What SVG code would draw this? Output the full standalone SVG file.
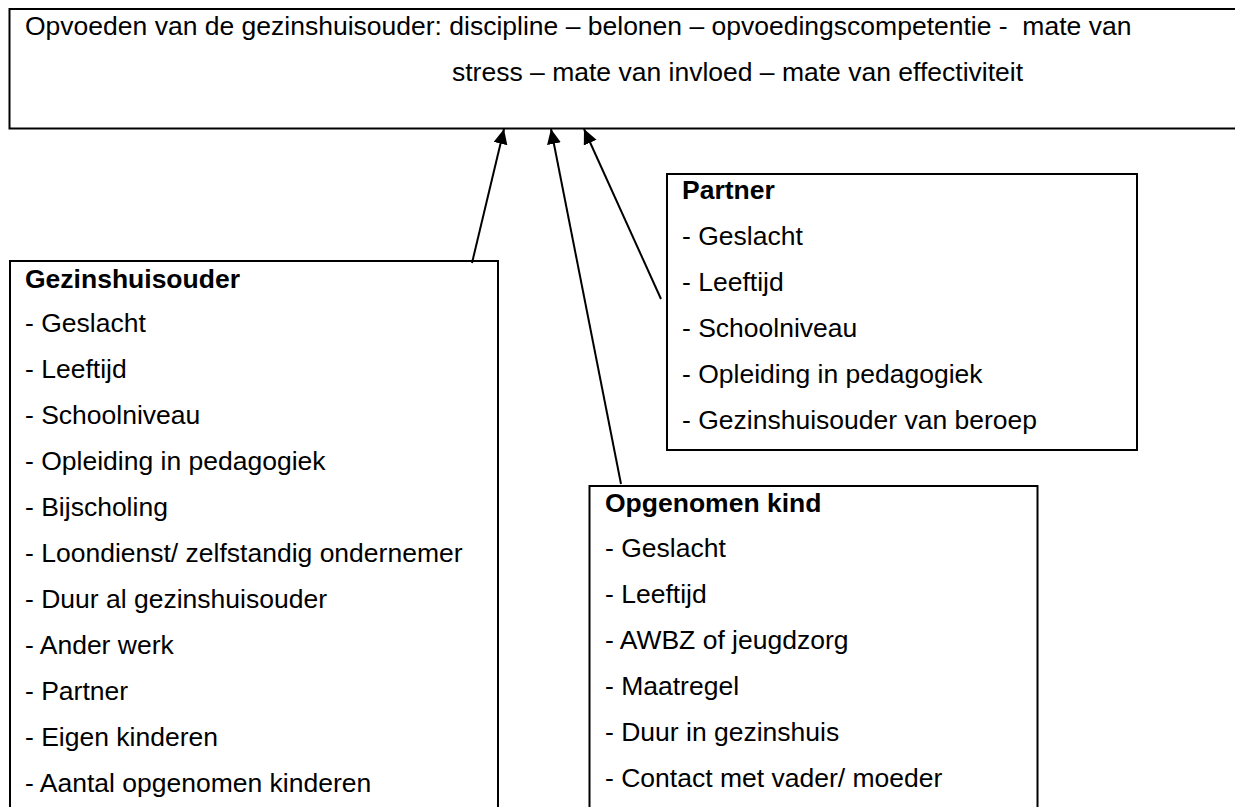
<svg xmlns="http://www.w3.org/2000/svg" width="1235" height="807" viewBox="0 0 1235 807">
<style>
  .box { fill: #ffffff; stroke: #000000; stroke-width: 2; }
  .t { font-family: "Liberation Sans", Arial, sans-serif; font-size: 26.5px; fill: #000000; }
  .h { font-weight: bold; }
  .conn { stroke: #000000; stroke-width: 2; fill: none; marker-end: url(#arrow); }
</style>
<defs>
  <marker id="arrow" markerUnits="userSpaceOnUse" markerWidth="16" markerHeight="15" refX="15" refY="7" orient="auto">
    <path d="M0,0 L15,7 L0,14 Z" fill="#000000"/>
  </marker>
</defs>
<rect width="1235" height="807" fill="#ffffff"/>

<g id="node-outcome">
  <rect class="box" x="9.5" y="9" width="1240" height="119.5"/>
  <text class="t" x="25" y="35" xml:space="preserve">Opvoeden van de gezinshuisouder: discipline – belonen – opvoedingscompetentie -  mate van</text>
  <text class="t" x="452" y="81">stress – mate van invloed – mate van effectiviteit</text>
</g>

<g id="node-gezinshuisouder">
  <rect class="box" x="10" y="261" width="488" height="560"/>
  <text class="t h" x="25" y="288">Gezinshuisouder</text>
  <text class="t" x="25" y="332">- Geslacht</text>
  <text class="t" x="25" y="378">- Leeftijd</text>
  <text class="t" x="25" y="424">- Schoolniveau</text>
  <text class="t" x="25" y="470">- Opleiding in pedagogiek</text>
  <text class="t" x="25" y="516">- Bijscholing</text>
  <text class="t" x="25" y="562">- Loondienst/ zelfstandig ondernemer</text>
  <text class="t" x="25" y="608">- Duur al gezinshuisouder</text>
  <text class="t" x="25" y="654">- Ander werk</text>
  <text class="t" x="25" y="700">- Partner</text>
  <text class="t" x="25" y="746">- Eigen kinderen</text>
  <text class="t" x="25" y="792">- Aantal opgenomen kinderen</text>
</g>

<g id="node-partner">
  <rect class="box" x="667" y="174" width="470" height="276"/>
  <text class="t h" x="682" y="199">Partner</text>
  <text class="t" x="682" y="245">- Geslacht</text>
  <text class="t" x="682" y="291">- Leeftijd</text>
  <text class="t" x="682" y="337">- Schoolniveau</text>
  <text class="t" x="682" y="383">- Opleiding in pedagogiek</text>
  <text class="t" x="682" y="429">- Gezinshuisouder van beroep</text>
</g>

<g id="node-opgenomen-kind">
  <rect class="box" x="589.5" y="486" width="448" height="340"/>
  <text class="t h" x="605" y="512">Opgenomen kind</text>
  <text class="t" x="605" y="557">- Geslacht</text>
  <text class="t" x="605" y="603">- Leeftijd</text>
  <text class="t" x="605" y="649">- AWBZ of jeugdzorg</text>
  <text class="t" x="605" y="695">- Maatregel</text>
  <text class="t" x="605" y="741">- Duur in gezinshuis</text>
  <text class="t" x="605" y="787">- Contact met vader/ moeder</text>
</g>

<g id="connectors">
  <line class="conn" x1="472" y1="263" x2="504" y2="129"/>
  <line class="conn" x1="621" y1="484" x2="551" y2="129"/>
  <line class="conn" x1="661" y1="299" x2="584" y2="129"/>
</g>
</svg>
